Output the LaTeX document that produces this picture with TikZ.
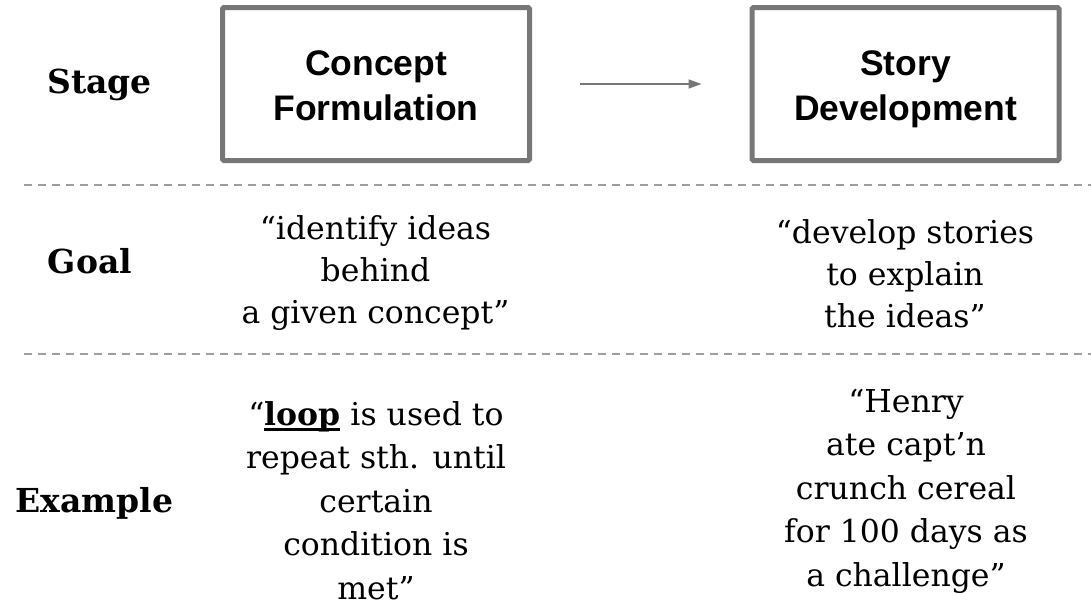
\documentclass[tikz,border=0pt]{standalone}
\usepackage{fontspec}
\setmainfont{DejaVu Serif}
\newfontfamily\boxfont{Liberation Sans}
\usetikzlibrary{arrows.meta}
\definecolor{boxgray}{HTML}{777777}
\definecolor{dashgray}{HTML}{9E9E9E}
\newcommand\myul[1]{\setbox0\hbox{#1}\rlap{\rule[-5.5pt]{\wd0}{2.2pt}}\box0\relax}
\begin{document}
\begin{tikzpicture}[x=1pt,y=-1pt,
  stagebox/.style={draw=boxgray, line width=5pt, rounded corners=1.5pt, minimum width=307pt, minimum height=153pt, inner sep=0pt},
  boxtext/.style={font=\boxfont\bfseries\fontsize{35.5}{45}\selectfont, align=center, anchor=base, inner sep=0pt},
  rowlabel/.style={font=\bfseries\fontsize{33}{40}\selectfont, anchor=base, inner sep=0pt},
  goaltext/.style={font=\fontsize{31.5}{42}\selectfont, align=center, anchor=base, inner sep=0pt},
  extext/.style={font=\fontsize{31.5}{43.5}\selectfont, align=center, anchor=base, inner sep=0pt},
  separator/.style={draw=dashgray, line width=2pt, dash pattern=on 8pt off 6pt},
  flow/.style={draw=boxgray, line width=1.5pt, -{Triangle[length=13pt,width=9pt]}}
]
\useasboundingbox[fill=white] (0,0) rectangle (1091,608);

% separators
\coordinate (s1a) at (24,185);
\coordinate (s1b) at (1091,185);
\coordinate (s2a) at (24,354);
\coordinate (s2b) at (1091,354);
\draw[separator] (s1a) -- (s1b);
\draw[separator] (s2a) -- (s2b);

% row labels
\node[rowlabel] (lstage) at (99.5,93) {Stage};
\node[rowlabel] (lgoal) at (90,273) {Goal};
\node[rowlabel] (lex) at (94.5,512) {Example};

% stage boxes (anchor base = baseline of the last line)
\node[stagebox] (b1) at (376,84) {};
\node[stagebox] (b2) at (905.5,84) {};
\node[boxtext] (t1) at (376,120) {Concept\\Formulation};
\node[boxtext] (t2) at (905.5,120) {Story\\Development};
\draw[flow, shorten <=48pt, shorten >=48pt] (b1.east) -- (b2.west);

% goals
\node[goaltext] (g1) at (375.5,323) {“identify ideas\\behind\\a given concept”};
\node[goaltext] (g2) at (905,327) {“develop stories\\to explain\\the ideas”};

% examples
\node[extext] (e1) at (376,599) {“\myul{\textbf{loop}} is used to\\repeat sth. until\\certain\\condition is\\met”};
\node[extext] (e2) at (906,586) {“Henry\\ate capt’n\\crunch cereal\\for 100 days as\\a challenge”};
\end{tikzpicture}
\end{document}
